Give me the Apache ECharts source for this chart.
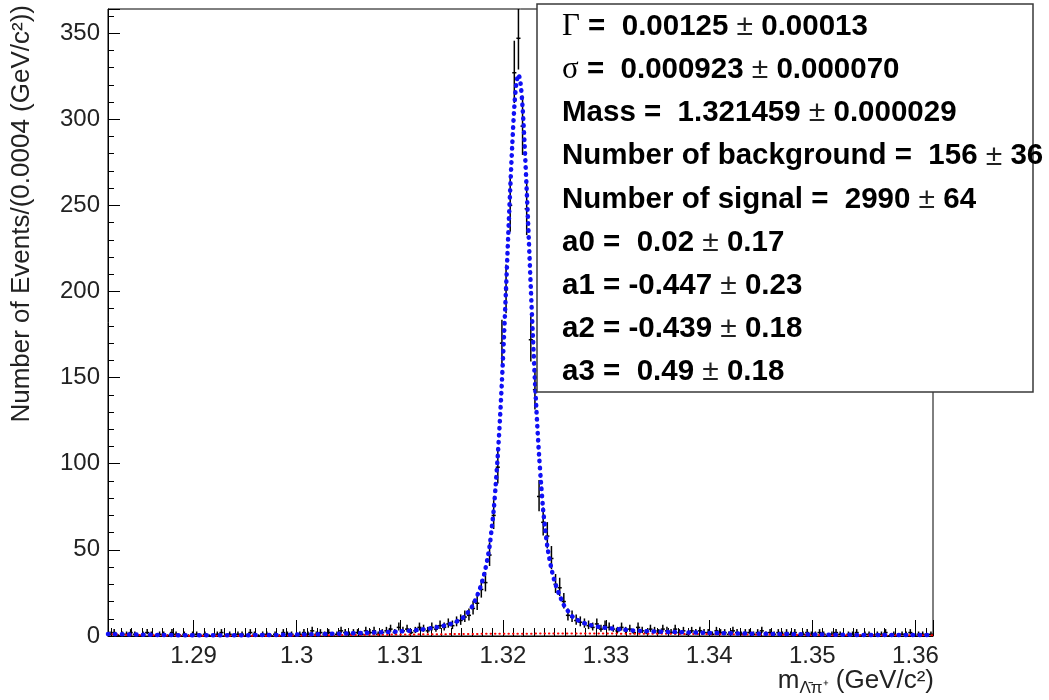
<!DOCTYPE html>
<html>
<head>
<meta charset="utf-8">
<script src="https://cdn.jsdelivr.net/npm/echarts@6/dist/echarts.min.js"></script>
<style>
html, body { margin: 0; padding: 0; background: #fff; }
#main { width: 1049px; height: 700px; }
</style>
</head>
<body>
<div id="main"></div>
<script>
// histogram: 200 bins of 0.0004 starting at 1.2817
var xStart = 1.2817;
var binWidth = 0.0004;
var counts = [
  1, 2, 0, 1, 1, 2, 1, 0, 1, 2,
  1, 0, 1, 1, 0, 2, 1, 0, 1, 0,
  1, 1, 0, 1, 0, 0, 1, 2, 0, 1,
  0, 1, 1, 0, 2, 1, 0, 1, 1, 0,
  1, 0, 2, 1, 1, 0, 1, 2, 1, 3,
  1, 2, 1, 2, 0, 1, 3, 2, 1, 2,
  2, 1, 3, 2, 3, 1, 2, 3, 4, 2,
  5, 3, 4, 2, 3, 5, 4, 3, 5, 4,
  6, 5, 7, 6, 8, 9, 11, 12, 16, 19,
  27, 31, 47, 70, 98, 170, 201, 250, 327, 347,
  296, 248, 172, 143, 81, 66, 58, 45, 30, 28,
  20, 12, 11, 9, 8, 7, 6, 5, 7, 4,
  6, 5, 4, 3, 5, 3, 4, 2, 5, 3,
  2, 4, 3, 2, 4, 3, 2, 4, 2, 3,
  1, 3, 2, 3, 2, 2, 1, 3, 2, 2,
  1, 3, 2, 1, 2, 2, 1, 2, 3, 1,
  2, 1, 2, 1, 2, 1, 2, 0, 1, 2,
  1, 1, 2, 1, 0, 1, 2, 1, 0, 1,
  1, 2, 0, 1, 1, 0, 1, 1, 2, 0,
  1, 0, 1, 1, 2, 0, 1, 1, 0, 1
];

// total fit (blue dotted)
var fitX = [1.2817, 1.2867, 1.2917, 1.2967, 1.3017, 1.3067, 1.3099, 1.3119, 1.3135, 1.3145,
  1.3150, 1.3155, 1.3159, 1.3163, 1.3167, 1.3171, 1.3175, 1.3177, 1.3179, 1.3181,
  1.3183, 1.3185, 1.3187, 1.3189, 1.3191, 1.3193, 1.3195, 1.3197, 1.3199, 1.3201,
  1.3203, 1.3205, 1.3207, 1.3209, 1.3211, 1.3213, 1.3215, 1.3217, 1.3219, 1.3221,
  1.3223, 1.3225, 1.3227, 1.3229, 1.3231, 1.3233, 1.3235, 1.3237, 1.3239, 1.3241,
  1.3243, 1.3245, 1.3247, 1.3249, 1.3251, 1.3253, 1.3255, 1.3259, 1.3263, 1.3267,
  1.3271, 1.3275, 1.3280, 1.3285, 1.3295, 1.3315, 1.3335, 1.3365, 1.3415, 1.3465,
  1.3515, 1.3565, 1.3617];
var fitY = [1.15, 0.6, 0.42, 0.56, 1.0, 1.8, 2.6, 3.6, 5.0, 6.3,
  7.2, 8.4, 9.8, 11.5, 14.5, 18, 23.5, 26.5, 30, 34,
  39, 45, 52, 62, 73, 88, 105, 125, 148, 174,
  202, 231, 259, 285, 307, 321, 326, 321, 307, 285,
  259, 231, 202, 174, 148, 125, 105, 88, 73, 62,
  52, 45, 39, 34, 30, 26.5, 23.5, 18, 14.5, 11.5,
  9.8, 8.4, 7.2, 6.3, 5.1, 3.8, 2.9, 2.3, 1.6, 1.2,
  0.8, 0.57, 0.59];

// background component (red dotted)
var bgX = [1.2817, 1.2867, 1.2917, 1.2967, 1.3017, 1.3067, 1.3117, 1.3167, 1.3217,
  1.3267, 1.3317, 1.3367, 1.3417, 1.3467, 1.3517, 1.3567, 1.3617];
var bgY = [1.02, 0.39, 0.15, 0.17, 0.37, 0.66, 0.94, 1.19, 1.35,
  1.42, 1.37, 1.23, 1.0, 0.81, 0.51, 0.38, 0.44];

// fit results box
var statNames = ['Γ', 'σ', 'Mass', 'Number of background', 'Number of signal', 'a0', 'a1', 'a2', 'a3'];
var statValues = [' 0.00125', ' 0.000923', ' 1.321459', ' 156', ' 2990', ' 0.02', '-0.447', '-0.439', ' 0.49'];
var statErrors = ['0.00013', '0.000070', '0.000029', '36', '64', '0.17', '0.23', '0.18', '0.18'];

var sans = '"Liberation Sans", Arial, Helvetica, sans-serif';
var serif = '"Liberation Serif", "Times New Roman", serif';

function histData() {
  var out = [];
  for (var i = 0; i < counts.length; i++) {
    var n = counts[i];
    var s = Math.sqrt(n + 0.25);
    out.push([xStart + i * binWidth, xStart + (i + 1) * binWidth, n, Math.max(0, n + 0.5 - s), n + 0.5 + s]);
  }
  return out;
}

function zip(a, b) {
  var out = [];
  for (var i = 0; i < a.length; i++) out.push([a[i], b[i]]);
  return out;
}

function statGraphics() {
  var items = [];
  items.push({
    type: 'rect', z: 100,
    shape: { x: 537, y: 4, width: 496, height: 388 },
    style: { fill: '#fff', stroke: '#3a3a3a', lineWidth: 1.5 }
  });
  for (var i = 0; i < statNames.length; i++) {
    var nm = statNames[i];
    var head = (nm === 'Γ' || nm === 'σ') ? '{g|' + nm + '}{b| =}' : '{b|' + nm + ' =}';
    items.push({
      type: 'text', z: 101,
      x: 562, y: 27 + i * 43.1,
      style: {
        text: head + '{b| ' + statValues[i] + ' }{pm|±}{b| ' + statErrors[i] + '}',
        align: 'left', verticalAlign: 'middle', fill: '#000',
        rich: {
          b: { font: 'bold 29.5px ' + sans, fill: '#000' },
          g: { font: '31px ' + serif, fill: '#000' },
          pm: { font: '30px ' + sans, fill: '#222' }
        }
      }
    });
  }
  return items;
}

var chart = echarts.init(document.getElementById('main'), null, { renderer: 'canvas' });

var option = {
  backgroundColor: '#fff',
  animation: false,
  grid: {
    left: 108, right: 116, top: 9, bottom: 64,
    show: true, borderColor: '#000', borderWidth: 1, backgroundColor: 'transparent'
  },
  xAxis: {
    type: 'value', min: 1.2817, max: 1.3617, splitNumber: 8,
    axisLine: { show: true, onZero: false, lineStyle: { color: '#000', width: 1 } },
    axisTick: { show: true, inside: true, length: 16, lineStyle: { color: '#000' } },
    minorTick: { show: true, splitNumber: 10, length: 8, lineStyle: { color: '#000' } },
    splitLine: { show: false },
    axisLabel: { showMinLabel: false, showMaxLabel: false, margin: 8, color: '#222', fontSize: 24, fontFamily: sans }
  },
  yAxis: {
    type: 'value', min: 0, max: 364, interval: 50,
    axisLine: { show: true, lineStyle: { color: '#000', width: 1 } },
    axisTick: { show: true, inside: true, length: 12, lineStyle: { color: '#000' } },
    minorTick: { show: true, splitNumber: 5, length: 6, lineStyle: { color: '#000' } },
    splitLine: { show: false },
    axisLabel: { showMaxLabel: false, margin: 8, color: '#222', fontSize: 24, fontFamily: sans }
  },
  series: [
    { // data points with error bars
      type: 'custom', z: 2, clip: true,
      data: histData(),
      encode: { x: [0, 1], y: [2, 3, 4] },
      renderItem: function (params, api) {
        var x0 = api.value(0), x1 = api.value(1), n = api.value(2);
        var xc = (x0 + x1) / 2;
        var pL = api.coord([x0, n]), pR = api.coord([x1, n]);
        var pLo = api.coord([xc, api.value(3)]), pHi = api.coord([xc, api.value(4)]);
        var st = { stroke: '#000', lineWidth: 1.5 };
        return {
          type: 'group',
          children: [
            { type: 'line', shape: { x1: pL[0], y1: pL[1], x2: pR[0], y2: pR[1] }, style: st },
            { type: 'line', shape: { x1: pLo[0], y1: pLo[1], x2: pHi[0], y2: pHi[1] }, style: st }
          ]
        };
      }
    },
    { // background
      type: 'line', z: 3, data: zip(bgX, bgY), smooth: 0.4, showSymbol: false,
      lineStyle: { color: '#ff0000', width: 2, type: [0.5, 4], cap: 'round' }
    },
    { // total fit
      type: 'line', z: 4, data: zip(fitX, fitY), smooth: 0.3, showSymbol: false,
      lineStyle: { color: '#1010f5', width: 4.5, type: [0.5, 6.5], cap: 'round' }
    }
  ],
  graphic: [
    {
      type: 'text', x: 22, y: 5, rotation: Math.PI / 2,
      style: {
        text: 'Number of Events/(0.0004 (GeV/c²))',
        font: '26px ' + sans, fill: '#222', align: 'right', verticalAlign: 'middle'
      }
    },
    {
      type: 'text', x: 934, y: 668,
      style: {
        text: '{m|m}{s|Λ̄π⁺}{n| (GeV/c²)}',
        align: 'right', verticalAlign: 'top', fill: '#222',
        rich: {
          m: { font: '26px ' + sans, fill: '#222', verticalAlign: 'top' },
          s: { font: '17px ' + sans, fill: '#222', verticalAlign: 'top', padding: [12, 0, 0, 0] },
          n: { font: '26px ' + sans, fill: '#222', verticalAlign: 'top' }
        }
      }
    }
  ].concat(statGraphics())
};

chart.setOption(option);
</script>
</body>
</html>
